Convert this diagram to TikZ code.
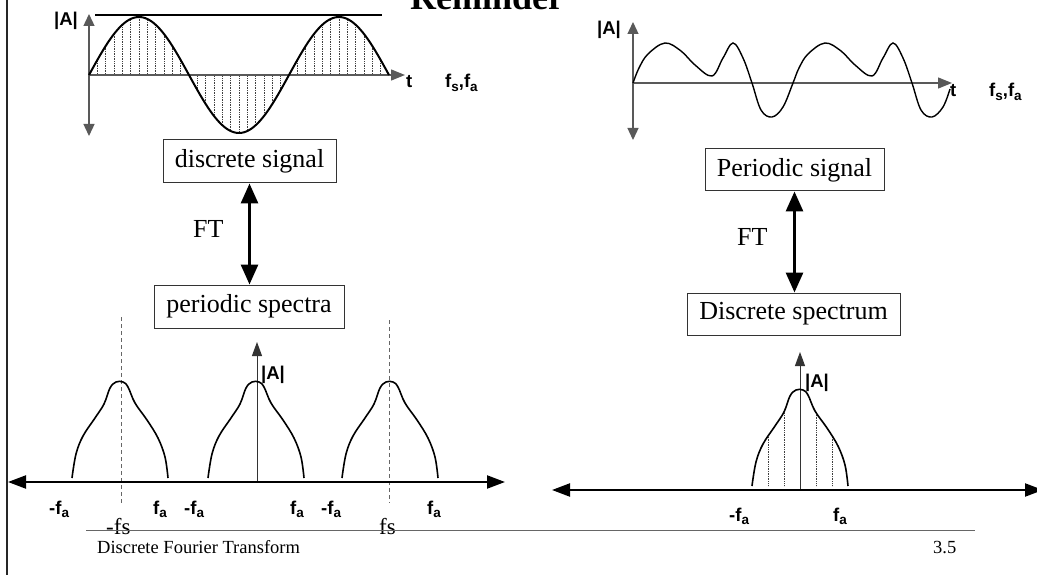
\documentclass[tikz,border=0pt]{standalone}
\usepackage{fontspec}
\setmainfont{Liberation Serif}
\setsansfont{Liberation Sans}
\usetikzlibrary{arrows.meta}
\newcommand\mysub[1]{\raisebox{-0.4ex}{\fontsize{13.5}{13.5}\selectfont #1}}
\def\mybump#1#2{plot[smooth,tension=0.6] coordinates {({#1-48},{#2-4}) ({#1-44},{#2-28}) ({#1-37},{#2-46}) ({#1-25},{#2-64}) ({#1-16},{#2-78}) ({#1-10},{#2-94}) ({#1-4},{#2-100}) ({#1+3},{#2-100}) ({#1+8},{#2-95}) ({#1+15},{#2-79}) ({#1+27},{#2-62}) ({#1+38},{#2-44}) ({#1+45},{#2-25}) ({#1+48},{#2-4})}}
\begin{document}
\begin{tikzpicture}[x=1pt,y=-1pt,
  box/.style={draw=black!80, line width=1pt, inner sep=0pt, font=\fontsize{26}{30}\selectfont},
  lab/.style={inner sep=0pt, anchor=base west, font=\sffamily\bfseries\fontsize{18.5}{18.5}\selectfont},
  serif/.style={inner sep=0pt, anchor=base west},
  thickarr/.style={line width=3pt, {Triangle[length=20pt,width=17pt]}-{Triangle[length=20pt,width=17pt]}},
  bigaxis/.style={line width=2.2pt, {Triangle[length=18pt,width=13pt]}-{Triangle[length=18pt,width=13pt]}},
  thinaxis/.style={line width=1pt, black!80, -{Triangle[length=14pt,width=10pt]}},
  topaxis/.style={line width=1.3pt, black!65, {Triangle[length=12pt,width=11pt]}-{Triangle[length=12pt,width=11pt]}},
  toparrow/.style={line width=1.3pt, black!65, -{Triangle[length=14pt,width=11pt]}},
  hatch/.style={densely dotted, line width=0.7pt, black!75},
  curve/.style={line width=1.4pt, black},
  bumpline/.style={line width=1.6pt, black},
  guide/.style={dash pattern=on 4pt off 3pt, line width=0.8pt, black!60}]
\useasboundingbox (0,0) rectangle (1037,575);
\clip (0,0) rectangle (1037,575);
% left border
\draw[line width=2pt, black!85] (7,-5) -- (7,580);
% title
\node[serif, font=\bfseries\fontsize{36}{36}\selectfont] (title) at (410,10) {Reminder};

% ---------------- top left: sampled sine ----------------
\coordinate (tlo) at (89,75);
\coordinate (tltop) at (89,14);
\coordinate (tlbot) at (89,136);
\coordinate (tlend) at (405,75);
\begin{scope}
  \clip plot[domain=89:389,samples=150] (\x,{75-58*sin(1.8*(\x-89))}) -- cycle;
  \foreach \k in {1,...,36} \draw[hatch] ({89+\k*100/12},0) -- ({89+\k*100/12},140);
\end{scope}
\draw[topaxis] (tltop) -- (tlbot);
\draw[toparrow] (tlo) -- (tlend);
\draw[line width=2pt] (95,15) -- (382,15);
\draw[line width=2pt] plot[domain=89:389,samples=150] (\x,{75-58*sin(1.8*(\x-89))});
\node[lab] (tlA) at (54,26) {|A|};
\node[lab] (tlt) at (406,88) {t};
\node[lab] (tlf) at (445,88) {f\mysub{s},f\mysub{a}};

% ---------------- top right: periodic signal ----------------
\coordinate (tro) at (633,83);
\coordinate (trtop) at (633,22);
\coordinate (trbot) at (633,140);
\coordinate (trend) at (952,83);
\draw[topaxis] (trtop) -- (trbot);
\draw[toparrow] (tro) -- (trend);
\draw[curve] plot[smooth,tension=0.6] coordinates {
 (633,83) (639,68) (648,54) (665,43) (681,51) (695,65) (712,76) (723,58) (733,43) (743,58) (752,83) (761,110) (772,117) (783,107) (793,83)
 (799,68) (808,54) (825,43) (841,51) (855,65) (872,76) (883,58) (893,43) (903,58) (912,83) (921,110) (932,117) (943,107) (950,89)};
\node[lab] (trA) at (597,35) {|A|};
\node[lab] (trt) at (950,97) {t};
\node[lab] (trf) at (989,97) {f\mysub{s},f\mysub{a}};

% ---------------- boxes ----------------
\node[box, minimum width=173pt, minimum height=43pt] (ds) at (249.5,161.5) {discrete signal};
\node[box, minimum width=190pt, minimum height=43pt] (ps) at (249,306.5) {periodic spectra};
\draw[thickarr] (ds.south) -- (ds.south |- ps.north);
\node[serif, font=\fontsize{26}{30}\selectfont] (ftl) at (193,237) {FT};

\node[box, minimum width=179pt, minimum height=42pt] (pg) at (794.5,170) {Periodic signal};
\node[box, minimum width=213pt, minimum height=42pt] (dsp) at (793.5,314) {Discrete spectrum};
\draw[thickarr] (pg.south) -- (pg.south |- dsp.north);
\node[serif, font=\fontsize{26}{30}\selectfont] (ftr) at (737,245) {FT};

% ---------------- bottom left: periodic spectra ----------------
\coordinate (blL) at (8,482);
\coordinate (blR) at (505,482);
\coordinate (blo) at (257,482);
\coordinate (bltop) at (257,342);
\draw[guide] (121,317) -- (121,503);
\draw[guide] (389,320) -- (389,503);
\draw[thinaxis] (blo) -- (bltop);
\foreach \c in {120,256,390} \draw[bumpline] \mybump{\c}{482};
\draw[bigaxis] (blL) -- (blR);
\node[lab] (blA) at (261,379) {|A|};
\node[lab] (l1) at (49,514) {-f\mysub{a}};
\node[lab] (l2) at (153,514) {f\mysub{a}};
\node[lab] (l3) at (184,514) {-f\mysub{a}};
\node[lab] (l4) at (290,514) {f\mysub{a}};
\node[lab] (l5) at (321,514) {-f\mysub{a}};
\node[lab] (l6) at (427,514) {f\mysub{a}};
\node[serif, font=\fontsize{23}{23}\selectfont] (mfs) at (106,534) {-fs};
\node[serif, font=\fontsize{23}{23}\selectfont] (pfs) at (379,534) {fs};

% ---------------- bottom right: discrete spectrum ----------------
\coordinate (brL) at (552,490);
\coordinate (brR) at (1043,490);
\coordinate (bro) at (800,490);
\coordinate (brtop) at (800,352);
\begin{scope}
  \clip \mybump{800}{490} -- cycle;
  \foreach \x in {768,784,816,832} \draw[hatch] (\x,340) -- (\x,490);
\end{scope}
\draw[thinaxis] (bro) -- (brtop);
\draw[bumpline] \mybump{800}{490};
\draw[bigaxis] (brL) -- (brR);
\node[lab] (brA) at (805,387) {|A|};
\node[lab] (r1) at (729,521) {-f\mysub{a}};
\node[lab] (r2) at (833,521) {f\mysub{a}};

% ---------------- footer ----------------
\draw[line width=1pt, black!60] (86,530) -- (975,530);
\node[serif, font=\fontsize{18.5}{20}\selectfont] (foot) at (97,553) {Discrete Fourier Transform};
\node[serif, font=\fontsize{18.5}{20}\selectfont] (page) at (933,553) {3.5};
\end{tikzpicture}
\end{document}
